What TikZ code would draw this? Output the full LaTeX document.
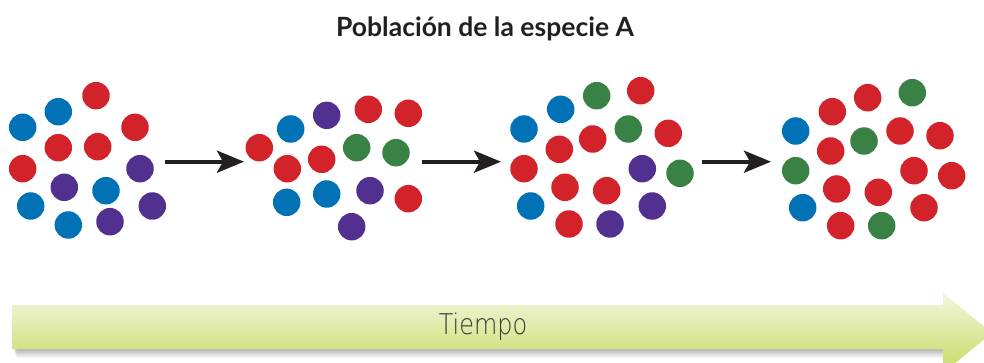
\documentclass[tikz,border=0pt]{standalone}
\usepackage{fontspec}
\setmainfont{Liberation Sans}
\newfontfamily\titlefont{Lato}
\newfontfamily\timefont[FakeStretch=0.84]{DejaVu Sans ExtraLight}
\usetikzlibrary{arrows.meta}
\definecolor{dred}{HTML}{D2232A}
\definecolor{dblue}{HTML}{0072B5}
\definecolor{dpurple}{HTML}{51308F}
\definecolor{dgreen}{HTML}{3A8145}
\definecolor{ink}{HTML}{231F20}
\definecolor{bartop}{HTML}{F2F6DE}
\definecolor{barbot}{HTML}{C8DB60}
\tikzset{
  dot/.style={circle, minimum size=27.5pt, inner sep=0pt, draw=none},
  conn/.style={draw=ink, line width=4pt, -{Stealth[length=27pt, width=22pt, inset=6pt]}},
}
\begin{document}
\begin{tikzpicture}[x=1pt, y=-1pt]
\useasboundingbox (0,0) rectangle (984,363);
% title
\node[anchor=base, text=ink, font=\titlefont\bfseries\fontsize{26.5}{30}\selectfont] (title) at (485,37) {Población de la especie A};
% cluster 1
\foreach \x/\y/\c [count=\i] in {
 96/95.7/dred, 58.3/111.7/dblue, 22.7/127.3/dblue, 135/127.3/dred,
 58.3/147.7/dred, 97.7/146.7/dred, 22.7/168.7/dred, 140/168.7/dpurple,
 64.3/187.3/dpurple, 106/190.7/dblue, 30.7/206/dblue, 152.3/206/dpurple,
 68.3/225/dblue, 110/221.7/dpurple}
  \node[dot, fill=\c] (a\i) at (\x,\y) {};
% cluster 2
\foreach \x/\y/\c [count=\i] in {
 326.7/115.3/dpurple, 368.3/109.3/dred, 408.3/113.3/dred, 290.7/129/dblue,
 259.3/147.7/dred, 356.7/147.7/dgreen, 396/152.7/dgreen, 321.7/159.3/dred,
 287.3/168.7/dred, 286.7/202.3/dblue, 326.7/194/dblue, 370/190.7/dpurple,
 408.3/198.7/dred, 351.7/226.7/dpurple}
  \node[dot, fill=\c] (b\i) at (\x,\y) {};
% cluster 3
\foreach \x/\y/\c [count=\i] in {
 596.7/95.7/dgreen, 640.7/90.7/dred, 560.7/109.3/dblue, 524/129/dblue,
 628.3/129/dgreen, 668.3/133.3/dred, 592.7/139/dred, 559.3/149.3/dred,
 524/168.7/dred, 642.3/168.7/dpurple, 680/173.3/dgreen, 565/187.3/dred,
 606.7/190.7/dred, 530.7/206/dblue, 652.3/206/dpurple, 569/224/dred,
 610/224/dpurple}
  \node[dot, fill=\c] (c\i) at (\x,\y) {};
% cluster 4
\foreach \x/\y/\c [count=\i] in {
 867.7/97.7/dred, 912.3/92.7/dgreen, 832.3/111.7/dred, 795.7/131/dblue,
 900/131/dred, 940/135.7/dred, 864/141/dgreen, 830.7/151/dred,
 795.7/170.7/dgreen, 914/170.7/dred, 951.7/175.7/dred, 836.7/189/dred,
 878.3/192.3/dred, 802.7/207.7/dblue, 924/207.7/dred, 840.7/225.7/dred,
 881.7/225.7/dgreen}
  \node[dot, fill=\c] (d\i) at (\x,\y) {};
% arrows between clusters
\coordinate (s1) at (165,161.7); \coordinate (e1) at (244,161.7);
\coordinate (s2) at (421.7,161.7); \coordinate (e2) at (501,161.7);
\coordinate (s3) at (701.7,161.7); \coordinate (e3) at (771,161.7);
\draw[conn] (s1) -- (e1);
\draw[conn] (s2) -- (e2);
\draw[conn] (s3) -- (e3);
% time arrow soft shadow
\foreach \k in {0,...,9}
  \fill[black, opacity=0.035] (13+0.4*\k,306+\k) -- (944,306+\k) -- (944,349+\k) -- (13+0.4*\k,349+\k) -- cycle;
% time arrow
\path[top color=bartop, bottom color=barbot] (12.7,305) -- (943,305) -- (943,293) -- (992,333) -- (943,373) -- (943,349) -- (12.7,349) -- cycle;
\node[text=ink!90, font=\timefont\fontsize{28.5}{32}\selectfont] (tiempo) at (483,327) {Tiempo};
\end{tikzpicture}
\end{document}
